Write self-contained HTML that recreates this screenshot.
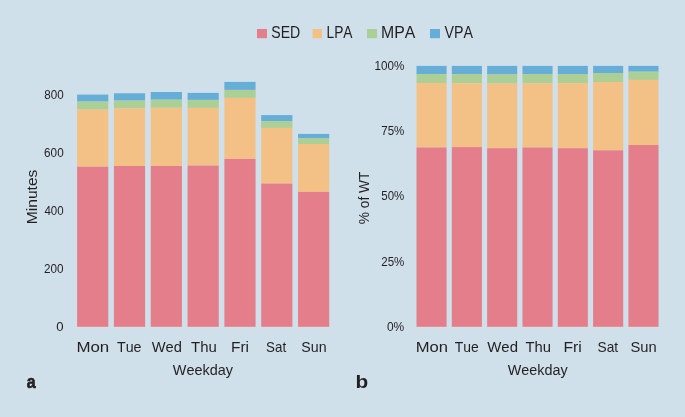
<!DOCTYPE html>
<html><head><meta charset="utf-8"><style>
html,body{margin:0;padding:0;background:#cfe0eb;width:685px;height:417px;overflow:hidden}
svg{display:block;will-change:transform}
text{font-family:"Liberation Sans", sans-serif;font-kerning:none;}
</style></head><body>
<svg width="685" height="417" viewBox="0 0 685 417">
<rect width="685" height="417" fill="#cfe0eb"/>
<rect x="257" y="29" width="10" height="9.2" fill="#e57e8b"/>
<rect x="312.5" y="29" width="9.5" height="9.2" fill="#f3c185"/>
<rect x="367" y="29" width="10" height="9.2" fill="#abcf95"/>
<rect x="430" y="29" width="10" height="9.2" fill="#66add8"/>
<rect x="74" y="326.9" width="257.6" height="1" fill="#e2ddd6" opacity="0.6"/>
<rect x="413.8" y="326.9" width="247.9" height="1" fill="#e2ddd6" opacity="0.6"/>
<rect x="77.10" y="94.6" width="31.2" height="7.00" fill="#66add8"/>
<rect x="77.10" y="101.6" width="31.2" height="8.00" fill="#abcf95"/>
<rect x="77.10" y="109.6" width="31.2" height="57.10" fill="#f3c185"/>
<rect x="77.10" y="166.7" width="31.2" height="160.10" fill="#e57e8b"/>
<rect x="113.92" y="93.3" width="31.2" height="7.30" fill="#66add8"/>
<rect x="113.92" y="100.6" width="31.2" height="7.70" fill="#abcf95"/>
<rect x="113.92" y="108.3" width="31.2" height="57.70" fill="#f3c185"/>
<rect x="113.92" y="166.0" width="31.2" height="160.80" fill="#e57e8b"/>
<rect x="150.74" y="92.0" width="31.2" height="7.70" fill="#66add8"/>
<rect x="150.74" y="99.7" width="31.2" height="8.10" fill="#abcf95"/>
<rect x="150.74" y="107.8" width="31.2" height="58.20" fill="#f3c185"/>
<rect x="150.74" y="166.0" width="31.2" height="160.80" fill="#e57e8b"/>
<rect x="187.56" y="92.9" width="31.2" height="7.00" fill="#66add8"/>
<rect x="187.56" y="99.9" width="31.2" height="8.00" fill="#abcf95"/>
<rect x="187.56" y="107.9" width="31.2" height="57.70" fill="#f3c185"/>
<rect x="187.56" y="165.6" width="31.2" height="161.20" fill="#e57e8b"/>
<rect x="224.38" y="81.9" width="31.2" height="8.00" fill="#66add8"/>
<rect x="224.38" y="89.9" width="31.2" height="8.00" fill="#abcf95"/>
<rect x="224.38" y="97.9" width="31.2" height="61.00" fill="#f3c185"/>
<rect x="224.38" y="158.9" width="31.2" height="167.90" fill="#e57e8b"/>
<rect x="261.20" y="115.1" width="31.2" height="6.00" fill="#66add8"/>
<rect x="261.20" y="121.1" width="31.2" height="6.80" fill="#abcf95"/>
<rect x="261.20" y="127.9" width="31.2" height="55.70" fill="#f3c185"/>
<rect x="261.20" y="183.6" width="31.2" height="143.20" fill="#e57e8b"/>
<rect x="298.02" y="133.9" width="31.2" height="4.50" fill="#66add8"/>
<rect x="298.02" y="138.4" width="31.2" height="5.60" fill="#abcf95"/>
<rect x="298.02" y="144.0" width="31.2" height="47.90" fill="#f3c185"/>
<rect x="298.02" y="191.9" width="31.2" height="134.90" fill="#e57e8b"/>
<rect x="416.50" y="65.9" width="30.1" height="8.20" fill="#66add8"/>
<rect x="416.50" y="74.1" width="30.1" height="8.90" fill="#abcf95"/>
<rect x="416.50" y="83.0" width="30.1" height="64.50" fill="#f3c185"/>
<rect x="416.50" y="147.5" width="30.1" height="179.30" fill="#e57e8b"/>
<rect x="451.82" y="65.9" width="30.1" height="8.20" fill="#66add8"/>
<rect x="451.82" y="74.1" width="30.1" height="9.10" fill="#abcf95"/>
<rect x="451.82" y="83.2" width="30.1" height="63.90" fill="#f3c185"/>
<rect x="451.82" y="147.1" width="30.1" height="179.70" fill="#e57e8b"/>
<rect x="487.14" y="65.9" width="30.1" height="8.50" fill="#66add8"/>
<rect x="487.14" y="74.4" width="30.1" height="9.20" fill="#abcf95"/>
<rect x="487.14" y="83.6" width="30.1" height="64.60" fill="#f3c185"/>
<rect x="487.14" y="148.2" width="30.1" height="178.60" fill="#e57e8b"/>
<rect x="522.46" y="65.9" width="30.1" height="8.20" fill="#66add8"/>
<rect x="522.46" y="74.1" width="30.1" height="9.30" fill="#abcf95"/>
<rect x="522.46" y="83.4" width="30.1" height="64.10" fill="#f3c185"/>
<rect x="522.46" y="147.5" width="30.1" height="179.30" fill="#e57e8b"/>
<rect x="557.78" y="65.9" width="30.1" height="8.10" fill="#66add8"/>
<rect x="557.78" y="74.0" width="30.1" height="9.10" fill="#abcf95"/>
<rect x="557.78" y="83.1" width="30.1" height="65.10" fill="#f3c185"/>
<rect x="557.78" y="148.2" width="30.1" height="178.60" fill="#e57e8b"/>
<rect x="593.10" y="65.9" width="30.1" height="7.10" fill="#66add8"/>
<rect x="593.10" y="73.0" width="30.1" height="9.00" fill="#abcf95"/>
<rect x="593.10" y="82.0" width="30.1" height="68.30" fill="#f3c185"/>
<rect x="593.10" y="150.3" width="30.1" height="176.50" fill="#e57e8b"/>
<rect x="628.42" y="65.9" width="30.1" height="5.80" fill="#66add8"/>
<rect x="628.42" y="71.7" width="30.1" height="8.20" fill="#abcf95"/>
<rect x="628.42" y="79.9" width="30.1" height="65.10" fill="#f3c185"/>
<rect x="628.42" y="145.0" width="30.1" height="181.80" fill="#e57e8b"/>
<g fill="#231f20">
<text transform="translate(271.26,38.4) scale(0.8553,1.0)" font-size="16.5">SED</text>
<text transform="translate(326.47,38.4) scale(0.8355,1.0)" font-size="16.5">LPA</text>
<text transform="translate(381.10,38.4) scale(0.9602,1.0)" font-size="16.5">MPA</text>
<text transform="translate(444.54,38.4) scale(0.8629,1.0)" font-size="16.5">VPA</text>
<text transform="translate(44.19,98.7) scale(0.9721,1.0)" font-size="12">800</text>
<text transform="translate(44.10,156.8) scale(0.9766,1.0)" font-size="12">600</text>
<text transform="translate(44.44,214.9) scale(0.9597,1.0)" font-size="12">400</text>
<text transform="translate(44.11,273.0) scale(0.9763,1.0)" font-size="12">200</text>
<text transform="translate(56.29,331.1) scale(1.0983,1.0)" font-size="12">0</text>
<text transform="translate(374.61,69.5) scale(0.9711,1.0)" font-size="12">100%</text>
<text transform="translate(381.21,134.9) scale(0.9619,1.0)" font-size="12">75%</text>
<text transform="translate(381.34,200.3) scale(0.9563,1.0)" font-size="12">50%</text>
<text transform="translate(381.22,265.7) scale(0.9614,1.0)" font-size="12">25%</text>
<text transform="translate(386.93,331.1) scale(0.9971,1.0)" font-size="12">0%</text>
<text transform="translate(76.41,352.1) scale(1.1578,1.0)" font-size="14.6">Mon</text>
<text transform="translate(116.98,352.1) scale(0.9760,1.0)" font-size="14.6">Tue</text>
<text transform="translate(151.64,352.1) scale(1.0064,1.0)" font-size="14.6">Wed</text>
<text transform="translate(191.06,352.1) scale(1.0268,1.0)" font-size="14.6">Thu</text>
<text transform="translate(231.03,352.1) scale(1.0578,1.0)" font-size="14.6">Fri</text>
<text transform="translate(266.09,352.1) scale(0.9128,1.0)" font-size="14.6">Sat</text>
<text transform="translate(301.36,352.1) scale(0.9726,1.0)" font-size="14.6">Sun</text>
<text transform="translate(415.64,352.1) scale(1.1388,1.0)" font-size="14.6">Mon</text>
<text transform="translate(454.79,352.1) scale(0.9553,1.0)" font-size="14.6">Tue</text>
<text transform="translate(487.23,352.1) scale(1.0236,1.0)" font-size="14.6">Wed</text>
<text transform="translate(525.47,352.1) scale(1.0142,1.0)" font-size="14.6">Thu</text>
<text transform="translate(563.41,352.1) scale(1.0780,1.0)" font-size="14.6">Fri</text>
<text transform="translate(597.58,352.1) scale(0.9412,1.0)" font-size="14.6">Sat</text>
<text transform="translate(630.53,352.1) scale(1.0096,1.0)" font-size="14.6">Sun</text>
<text transform="translate(172.84,374.6) scale(0.9890,1.0)" font-size="14.6">Weekday</text>
<text transform="translate(507.64,374.6) scale(0.9857,1.0)" font-size="14.6">Weekday</text>
<text transform="translate(37.1,224.28) rotate(-90) scale(1.0709,1.0)" font-size="14.6">Minutes</text>
<text transform="translate(368.6,224.19) rotate(-90) scale(0.9399,1.0)" font-size="14.6">% of WT</text>
<text transform="translate(26.73,388.2) scale(0.8390,1.0)" font-size="19" font-weight="bold" stroke="#231f20" stroke-width="0.7">a</text>
<text transform="translate(355.43,388.1) scale(1.0967,1.0)" font-size="19" font-weight="bold">b</text>
</g>
</svg>
</body></html>
